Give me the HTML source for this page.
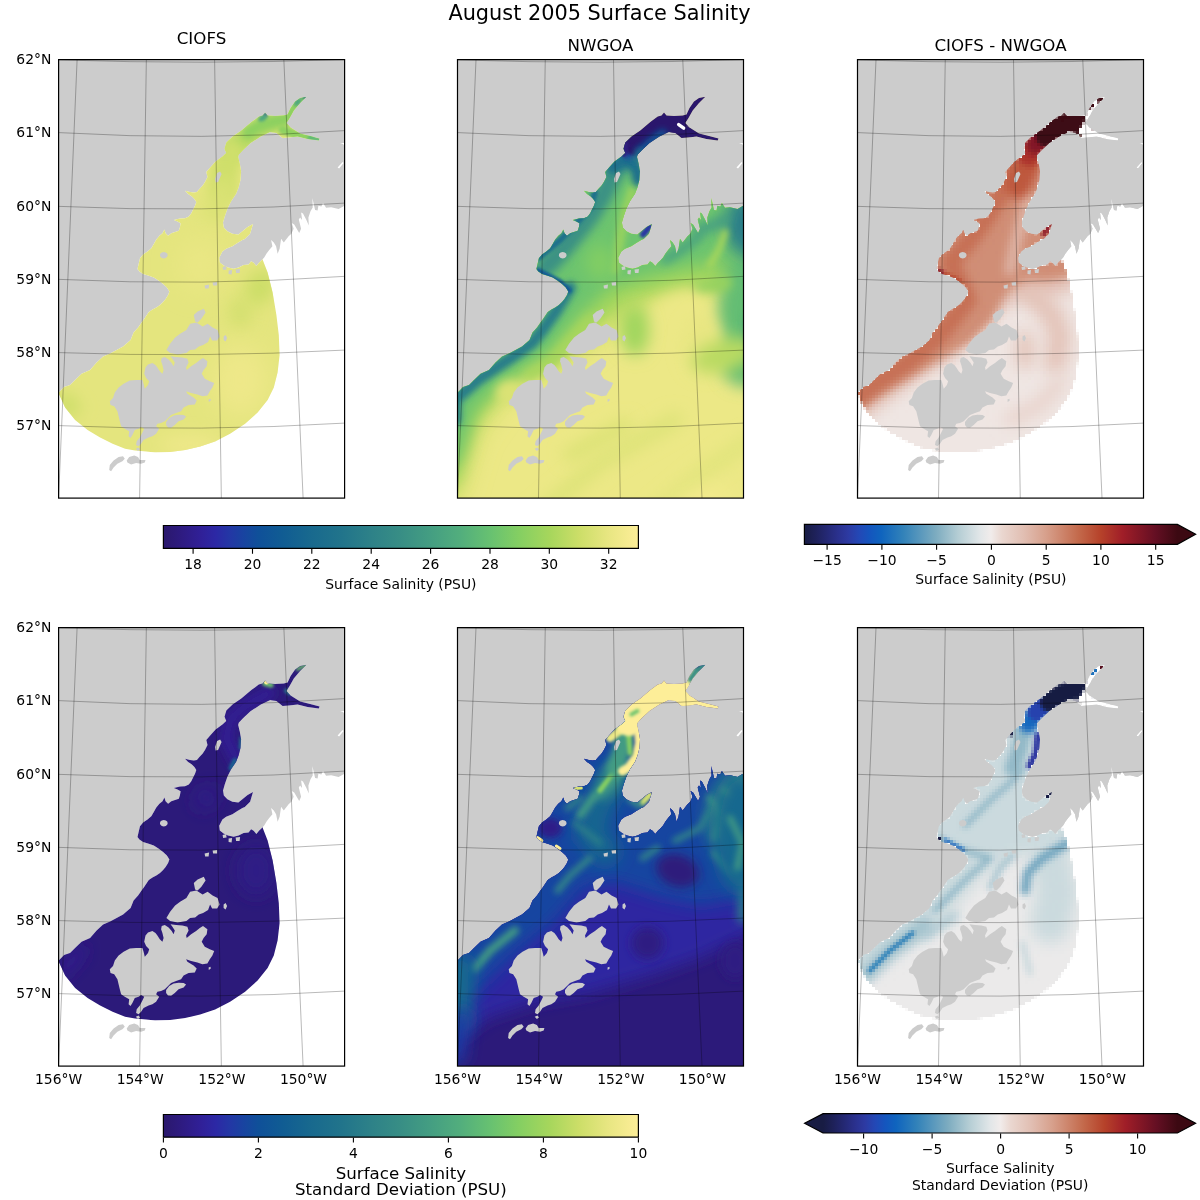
<!DOCTYPE html><html><head><meta charset="utf-8"><title>August 2005 Surface Salinity</title>
<style>html,body{margin:0;padding:0;background:#fff}svg{display:block}text{font-family:"DejaVu Sans","Liberation Sans",sans-serif;fill:#000}</style></head><body>
<svg width="1200" height="1200" viewBox="0 0 1200 1200">
<defs>
<path id="sea" d="M247.8 37.2 L241.5 38.5 L236.5 41.8 L232.0 48.5 L229.0 55.0 L225.2 56.0 L216.5 56.5 L209.0 56.0 L206.5 53.0 L204.0 56.0 L200.2 57.0 L192.8 62.5 L182.8 71.0 L174.0 76.8 L167.8 83.0 L166.0 89.2 L167.8 93.5 L164.0 96.8 L157.0 101.8 L152.0 107.5 L147.7 112.4 L148.9 117.4 L146.4 122.4 L143.9 126.2 L140.8 129.3 L138.3 132.4 L135.2 133.0 L131.4 132.4 L126.4 131.2 L129.5 134.3 L133.3 136.8 L135.8 139.3 L137.7 142.4 L136.4 146.2 L134.5 149.9 L132.7 153.7 L130.2 156.8 L126.4 158.7 L121.4 158.9 L115.2 160.5 L118.9 161.8 L122.0 163.7 L121.4 167.4 L120.2 171.2 L116.4 172.4 L112.7 173.7 L109.5 176.2 L107.0 173.7 L105.8 169.9 L103.9 173.7 L100.8 176.2 L97.7 179.9 L95.2 184.3 L92.7 188.7 L88.9 191.8 L84.5 194.9 L81.4 198.7 L80.2 203.7 L78.9 209.3 L80.8 211.8 L84.5 214.3 L90.2 216.2 L95.2 218.0 L100.2 221.2 L104.5 224.3 L108.3 228.0 L110.8 231.8 L109.5 235.5 L107.0 239.3 L104.5 242.4 L101.4 245.5 L97.7 248.0 L93.9 249.9 L90.2 252.4 L87.7 256.1 L85.2 259.9 L83.3 262.4 L79.5 268.0 L75.0 273.0 L72.0 280.5 L64.5 286.8 L58.0 290.5 L51.5 294.0 L44.5 296.8 L38.0 303.0 L31.5 310.5 L23.0 314.2 L16.5 320.5 L11.5 325.5 L5.5 327.5 L0.2 333.0 L0.0 438.5 L286.0 438.5 L287.5 145.2 L280.0 149.4 L272.5 147.7 L267.5 148.2 L264.4 143.5 L262.8 146.9 L259.8 146.2 L259.0 151.0 L256.5 150.4 L253.8 138.5 L254.1 147.9 L251.9 151.7 L249.8 157.9 L250.2 166.0 L247.8 160.4 L244.4 153.9 L242.5 152.9 L243.5 160.4 L241.5 157.9 L240.2 159.8 L242.5 169.2 L240.6 173.5 L238.1 169.2 L235.6 164.8 L233.1 163.5 L235.0 169.2 L232.8 174.2 L230.0 176.7 L227.5 179.8 L225.2 182.9 L222.5 179.2 L221.0 189.2 L219.0 194.2 L217.5 186.7 L215.2 182.9 L212.5 180.4 L213.8 186.7 L210.6 190.4 L207.8 194.2 L205.6 197.9 L202.8 201.0 L200.6 202.9 L197.8 206.4 L195.0 203.2 L192.5 201.7 L190.0 204.8 L185.0 205.4 L180.0 207.9 L175.0 209.2 L169.4 207.9 L165.0 206.0 L161.2 202.9 L160.6 198.2 L163.8 191.9 L167.5 189.2 L173.8 186.7 L178.8 183.5 L183.8 180.4 L186.2 179.4 L191.5 174.2 L194.4 164.5 L189.0 167.4 L184.4 171.2 L179.8 174.9 L173.8 174.2 L168.8 171.7 L165.2 167.9 L164.4 162.9 L166.2 156.7 L168.8 149.2 L172.5 141.7 L177.5 134.2 L180.0 127.9 L181.9 120.4 L182.5 111.7 L181.2 104.2 L179.5 97.3 L180.0 95.2 L184.5 90.5 L192.0 83.5 L202.0 77.0 L211.5 72.5 L217.8 73.5 L224.0 78.5 L230.2 78.0 L239.0 77.0 L249.0 79.5 L260.2 81.0 L261.0 79.0 L251.5 76.5 L241.5 74.0 L232.0 68.0 L227.8 63.5 L231.0 58.5 L235.2 51.0 L241.5 43.5Z"/>
<path id="pws" d="M281.5 83.5 L284.5 84.5 L285.8 86.5 L285.8 83.5Z M279.0 108.0 L284.0 102.5 L285.0 103.5 L280.5 109.0Z"/>
<path id="land" fill-rule="evenodd" d="M-2 -2H288.0V440.5H-2Z M247.8 37.2 L241.5 38.5 L236.5 41.8 L232.0 48.5 L229.0 55.0 L225.2 56.0 L216.5 56.5 L209.0 56.0 L206.5 53.0 L204.0 56.0 L200.2 57.0 L192.8 62.5 L182.8 71.0 L174.0 76.8 L167.8 83.0 L166.0 89.2 L167.8 93.5 L164.0 96.8 L157.0 101.8 L152.0 107.5 L147.7 112.4 L148.9 117.4 L146.4 122.4 L143.9 126.2 L140.8 129.3 L138.3 132.4 L135.2 133.0 L131.4 132.4 L126.4 131.2 L129.5 134.3 L133.3 136.8 L135.8 139.3 L137.7 142.4 L136.4 146.2 L134.5 149.9 L132.7 153.7 L130.2 156.8 L126.4 158.7 L121.4 158.9 L115.2 160.5 L118.9 161.8 L122.0 163.7 L121.4 167.4 L120.2 171.2 L116.4 172.4 L112.7 173.7 L109.5 176.2 L107.0 173.7 L105.8 169.9 L103.9 173.7 L100.8 176.2 L97.7 179.9 L95.2 184.3 L92.7 188.7 L88.9 191.8 L84.5 194.9 L81.4 198.7 L80.2 203.7 L78.9 209.3 L80.8 211.8 L84.5 214.3 L90.2 216.2 L95.2 218.0 L100.2 221.2 L104.5 224.3 L108.3 228.0 L110.8 231.8 L109.5 235.5 L107.0 239.3 L104.5 242.4 L101.4 245.5 L97.7 248.0 L93.9 249.9 L90.2 252.4 L87.7 256.1 L85.2 259.9 L83.3 262.4 L79.5 268.0 L75.0 273.0 L72.0 280.5 L64.5 286.8 L58.0 290.5 L51.5 294.0 L44.5 296.8 L38.0 303.0 L31.5 310.5 L23.0 314.2 L16.5 320.5 L11.5 325.5 L5.5 327.5 L0.2 333.0 L0.0 438.5 L286.0 438.5 L287.5 145.2 L280.0 149.4 L272.5 147.7 L267.5 148.2 L264.4 143.5 L262.8 146.9 L259.8 146.2 L259.0 151.0 L256.5 150.4 L253.8 138.5 L254.1 147.9 L251.9 151.7 L249.8 157.9 L250.2 166.0 L247.8 160.4 L244.4 153.9 L242.5 152.9 L243.5 160.4 L241.5 157.9 L240.2 159.8 L242.5 169.2 L240.6 173.5 L238.1 169.2 L235.6 164.8 L233.1 163.5 L235.0 169.2 L232.8 174.2 L230.0 176.7 L227.5 179.8 L225.2 182.9 L222.5 179.2 L221.0 189.2 L219.0 194.2 L217.5 186.7 L215.2 182.9 L212.5 180.4 L213.8 186.7 L210.6 190.4 L207.8 194.2 L205.6 197.9 L202.8 201.0 L200.6 202.9 L197.8 206.4 L195.0 203.2 L192.5 201.7 L190.0 204.8 L185.0 205.4 L180.0 207.9 L175.0 209.2 L169.4 207.9 L165.0 206.0 L161.2 202.9 L160.6 198.2 L163.8 191.9 L167.5 189.2 L173.8 186.7 L178.8 183.5 L183.8 180.4 L186.2 179.4 L191.5 174.2 L194.4 164.5 L189.0 167.4 L184.4 171.2 L179.8 174.9 L173.8 174.2 L168.8 171.7 L165.2 167.9 L164.4 162.9 L166.2 156.7 L168.8 149.2 L172.5 141.7 L177.5 134.2 L180.0 127.9 L181.9 120.4 L182.5 111.7 L181.2 104.2 L179.5 97.3 L180.0 95.2 L184.5 90.5 L192.0 83.5 L202.0 77.0 L211.5 72.5 L217.8 73.5 L224.0 78.5 L230.2 78.0 L239.0 77.0 L249.0 79.5 L260.2 81.0 L261.0 79.0 L251.5 76.5 L241.5 74.0 L232.0 68.0 L227.8 63.5 L231.0 58.5 L235.2 51.0 L241.5 43.5Z M281.5 83.5 L284.5 84.5 L285.8 86.5 L285.8 83.5Z M279.0 108.0 L284.0 102.5 L285.0 103.5 L280.5 109.0Z"/>
<filter id="pix" filterUnits="userSpaceOnUse" x="0" y="0" width="288" height="441" color-interpolation-filters="sRGB"><feFlood x="1" y="1" width="1" height="1"/><feComposite width="3" height="3"/><feTile result="t"/><feComposite in="SourceGraphic" in2="t" operator="in"/><feMorphology operator="dilate" radius="1"/></filter>
<path id="isl" d="M136.5 261.8 L135.2 255.5 L139.0 251.8 L145.2 249.2 L147.0 253.0 L142.8 259.2 L139.0 263.0Z M107.8 290.5 L111.5 284.2 L116.5 278.0 L121.5 274.2 L127.8 270.5 L131.5 264.2 L137.8 263.0 L144.0 266.8 L149.0 264.2 L154.0 268.0 L159.0 270.5 L161.0 276.8 L158.5 281.0 L153.5 281.0 L151.5 276.8 L149.5 282.5 L144.5 285.5 L140.2 287.0 L136.5 290.0 L131.5 290.5 L127.8 293.5 L119.0 295.0 L111.5 293.5Z M165.0 276.8 L167.0 275.5 L168.5 278.5 L167.0 282.0 L165.0 280.5Z M86.9 307.9 L89.4 304.8 L93.8 303.5 L96.9 305.4 L98.8 307.9 L101.2 311.6 L103.8 314.1 L105.0 310.4 L103.8 305.4 L102.5 301.6 L103.1 298.5 L106.2 297.3 L110.0 299.8 L113.1 303.5 L115.0 306.6 L116.2 302.9 L113.8 299.1 L111.9 296.6 L117.5 297.3 L123.8 297.9 L128.8 299.1 L130.0 302.9 L127.5 307.9 L128.1 310.4 L132.5 306.6 L137.5 303.5 L141.2 300.4 L144.4 298.5 L148.8 301.6 L148.1 306.6 L145.0 310.4 L143.1 314.1 L146.2 319.1 L151.2 321.6 L155.6 323.5 L153.8 327.9 L151.2 331.6 L148.8 336.0 L143.8 336.6 L138.8 334.8 L132.5 333.5 L127.5 331.6 L128.8 334.1 L135.0 337.9 L138.1 341.0 L136.2 344.8 L130.0 345.4 L125.0 347.9 L122.5 351.6 L117.5 353.5 L112.5 355.4 L110.0 357.9 L106.2 361.6 L102.5 363.5 L98.8 364.1 L97.5 366.6 L100.6 369.1 L97.5 374.1 L93.8 376.6 L90.0 377.9 L85.0 380.4 L82.5 384.1 L80.0 386.6 L77.5 385.4 L78.1 381.6 L81.2 377.9 L83.8 372.9 L85.6 369.1 L82.5 367.3 L80.0 369.1 L76.2 370.4 L73.8 375.4 L71.9 378.5 L70.0 376.6 L70.6 371.6 L66.2 369.1 L62.5 366.6 L61.2 361.6 L60.0 356.6 L58.8 351.6 L55.6 346.6 L51.9 345.4 L51.2 341.6 L54.4 338.5 L56.2 332.9 L60.0 327.9 L65.0 324.1 L71.2 321.0 L77.5 320.4 L83.8 320.4 L85.0 324.1 L86.2 329.1 L89.4 325.4 L90.6 321.6 L87.5 318.5 L85.6 314.1Z M150.0 339.8 L151.9 339.1 L152.2 341.0 L150.2 342.3Z M107.5 362.3 L110.6 358.5 L115.0 356.0 L120.0 355.1 L125.0 355.4 L127.5 356.9 L125.0 359.8 L120.0 361.6 L116.2 365.4 L112.5 368.1 L109.4 367.9 L107.5 365.4Z M50.6 410.4 L51.2 405.4 L55.0 401.0 L60.0 397.3 L64.4 396.6 L66.2 399.1 L63.8 401.6 L58.8 404.1 L55.0 407.9 L52.5 411.6Z M68.1 401.0 L70.6 397.3 L75.6 396.0 L79.4 397.3 L81.2 400.4 L86.9 400.4 L86.2 402.9 L82.5 404.1 L77.5 403.5 L72.5 404.8 L68.8 402.9Z M77.2 389.1 L80.0 387.9 L81.5 389.8 L79.4 391.4Z M109.1 195.6 L108.6 197.2 L107.2 198.4 L105.2 198.8 L103.2 198.4 L101.8 197.2 L101.3 195.6 L101.8 194.0 L103.2 192.8 L105.2 192.4 L107.2 192.8 L108.6 194.0Z M146.0 226.0 L150.5 225.0 L150.0 229.0 L146.5 229.0Z M154.0 223.0 L158.5 222.5 L158.5 226.0 L154.5 226.0Z M158.5 113.5 L161.5 112.0 L163.0 114.5 L159.5 122.5 L157.0 123.0 L156.5 119.5Z M164.0 207.5 L167.5 206.5 L168.0 210.0 L164.5 210.5Z M170.0 211.0 L173.5 210.5 L173.0 215.0 L170.0 214.5Z M177.0 210.0 L181.5 209.5 L181.0 213.5 L177.5 213.5Z"/>
<clipPath id="cPanel"><rect x="0" y="0" width="286.0" height="438.5"/></clipPath>
<clipPath id="cSea"><path d="M247.8 37.2 L241.5 38.5 L236.5 41.8 L232.0 48.5 L229.0 55.0 L225.2 56.0 L216.5 56.5 L209.0 56.0 L206.5 53.0 L204.0 56.0 L200.2 57.0 L192.8 62.5 L182.8 71.0 L174.0 76.8 L167.8 83.0 L166.0 89.2 L167.8 93.5 L164.0 96.8 L157.0 101.8 L152.0 107.5 L147.7 112.4 L148.9 117.4 L146.4 122.4 L143.9 126.2 L140.8 129.3 L138.3 132.4 L135.2 133.0 L131.4 132.4 L126.4 131.2 L129.5 134.3 L133.3 136.8 L135.8 139.3 L137.7 142.4 L136.4 146.2 L134.5 149.9 L132.7 153.7 L130.2 156.8 L126.4 158.7 L121.4 158.9 L115.2 160.5 L118.9 161.8 L122.0 163.7 L121.4 167.4 L120.2 171.2 L116.4 172.4 L112.7 173.7 L109.5 176.2 L107.0 173.7 L105.8 169.9 L103.9 173.7 L100.8 176.2 L97.7 179.9 L95.2 184.3 L92.7 188.7 L88.9 191.8 L84.5 194.9 L81.4 198.7 L80.2 203.7 L78.9 209.3 L80.8 211.8 L84.5 214.3 L90.2 216.2 L95.2 218.0 L100.2 221.2 L104.5 224.3 L108.3 228.0 L110.8 231.8 L109.5 235.5 L107.0 239.3 L104.5 242.4 L101.4 245.5 L97.7 248.0 L93.9 249.9 L90.2 252.4 L87.7 256.1 L85.2 259.9 L83.3 262.4 L79.5 268.0 L75.0 273.0 L72.0 280.5 L64.5 286.8 L58.0 290.5 L51.5 294.0 L44.5 296.8 L38.0 303.0 L31.5 310.5 L23.0 314.2 L16.5 320.5 L11.5 325.5 L5.5 327.5 L0.2 333.0 L0.0 438.5 L286.0 438.5 L287.5 145.2 L280.0 149.4 L272.5 147.7 L267.5 148.2 L264.4 143.5 L262.8 146.9 L259.8 146.2 L259.0 151.0 L256.5 150.4 L253.8 138.5 L254.1 147.9 L251.9 151.7 L249.8 157.9 L250.2 166.0 L247.8 160.4 L244.4 153.9 L242.5 152.9 L243.5 160.4 L241.5 157.9 L240.2 159.8 L242.5 169.2 L240.6 173.5 L238.1 169.2 L235.6 164.8 L233.1 163.5 L235.0 169.2 L232.8 174.2 L230.0 176.7 L227.5 179.8 L225.2 182.9 L222.5 179.2 L221.0 189.2 L219.0 194.2 L217.5 186.7 L215.2 182.9 L212.5 180.4 L213.8 186.7 L210.6 190.4 L207.8 194.2 L205.6 197.9 L202.8 201.0 L200.6 202.9 L197.8 206.4 L195.0 203.2 L192.5 201.7 L190.0 204.8 L185.0 205.4 L180.0 207.9 L175.0 209.2 L169.4 207.9 L165.0 206.0 L161.2 202.9 L160.6 198.2 L163.8 191.9 L167.5 189.2 L173.8 186.7 L178.8 183.5 L183.8 180.4 L186.2 179.4 L191.5 174.2 L194.4 164.5 L189.0 167.4 L184.4 171.2 L179.8 174.9 L173.8 174.2 L168.8 171.7 L165.2 167.9 L164.4 162.9 L166.2 156.7 L168.8 149.2 L172.5 141.7 L177.5 134.2 L180.0 127.9 L181.9 120.4 L182.5 111.7 L181.2 104.2 L179.5 97.3 L180.0 95.2 L184.5 90.5 L192.0 83.5 L202.0 77.0 L211.5 72.5 L217.8 73.5 L224.0 78.5 L230.2 78.0 L239.0 77.0 L249.0 79.5 L260.2 81.0 L261.0 79.0 L251.5 76.5 L241.5 74.0 L232.0 68.0 L227.8 63.5 L231.0 58.5 L235.2 51.0 L241.5 43.5Z"/></clipPath>
<clipPath id="cDom"><path d="M-5.0 -5.0 L-5.0 334.2 L0.2 334.2 L6.5 348.0 L16.5 360.5 L29.0 370.5 L41.5 378.0 L54.0 384.2 L66.5 389.2 L76.5 391.0 L87.8 392.0 L96.5 393.0 L111.5 392.5 L126.5 390.5 L141.5 386.8 L156.5 381.8 L171.5 374.2 L186.5 364.2 L199.0 353.0 L209.0 340.5 L215.2 328.0 L219.0 313.0 L221.0 295.5 L220.2 275.5 L217.8 255.5 L214.0 233.0 L209.0 213.0 L202.8 196.8 L200.0 175.0 L215.0 120.0 L272.0 100.0 L272.0 -5.0Z"/></clipPath>
<filter id="b1_5" filterUnits="userSpaceOnUse" x="-80" y="-80" width="450" height="600"><feGaussianBlur stdDeviation="1.5"/></filter>
<filter id="b3" filterUnits="userSpaceOnUse" x="-80" y="-80" width="450" height="600"><feGaussianBlur stdDeviation="3"/></filter>
<filter id="b5" filterUnits="userSpaceOnUse" x="-80" y="-80" width="450" height="600"><feGaussianBlur stdDeviation="5"/></filter>
<filter id="b8" filterUnits="userSpaceOnUse" x="-80" y="-80" width="450" height="600"><feGaussianBlur stdDeviation="8"/></filter>
<filter id="b12" filterUnits="userSpaceOnUse" x="-80" y="-80" width="450" height="600"><feGaussianBlur stdDeviation="12"/></filter>
<filter id="b18" filterUnits="userSpaceOnUse" x="-80" y="-80" width="450" height="600"><feGaussianBlur stdDeviation="18"/></filter>
<path id="grat" d="M18.50 0.00 L0.00 438.50 M87.75 0.00 L81.00 438.50 M156.00 0.00 L162.75 438.50 M225.25 0.00 L244.50 438.50 M0 0.30 Q143.00 5.05 286.00 0.00 M0 73.00 Q143.00 81.50 286.00 71.00 M0 146.75 Q143.00 153.38 286.00 143.50 M0 219.75 Q143.00 226.75 286.00 216.75 M0 293.00 Q143.00 298.25 286.00 290.50 M0 366.00 Q143.00 372.25 286.00 363.50" fill="none" stroke="#000" stroke-opacity="0.5" stroke-width="0.55"/>
</defs>
<g transform="translate(58.6 59.6)">
<g clip-path="url(#cPanel)">
<rect x="0" y="0" width="286.0" height="438.5" fill="#cccccc"/>
<use href="#sea" fill="#fff"/><use href="#pws" fill="#fff"/>
<g clip-path="url(#cDom)">
<g clip-path="url(#cSea)">
<path d="M-5.0 -5.0 L291.0 -5.0 L291.0 443.5 L-5.0 443.5Z" fill="rgb(228,229,126)"/><path d="M231.5 58.0 L209.0 65.5 L186.5 79.2 L172.8 90.5" fill="none" stroke="rgb(177,216,96)" stroke-width="20" stroke-linecap="round" stroke-linejoin="round" filter="url(#b5)"/><path d="M246.5 38.0 L235.2 49.2 L229.0 59.2 L216.5 61.8 L201.5 65.5 L189.0 73.0" fill="none" stroke="rgb(140,208,97)" stroke-width="12" stroke-linecap="round" stroke-linejoin="round" filter="url(#b3)"/><path d="M224.0 70.5 L239.0 75.5 L251.5 78.0" fill="none" stroke="rgb(143,209,96)" stroke-width="8" stroke-linecap="round" stroke-linejoin="round" filter="url(#b1_5)"/><path d="M251.5 78.0 L261.5 80.5" fill="none" stroke="rgb(92,184,119)" stroke-width="5" stroke-linecap="round" stroke-linejoin="round" filter="url(#b1_5)"/><path d="M172.8 93.0 L166.5 110.5 L164.0 130.5" fill="none" stroke="rgb(207,223,107)" stroke-width="26" stroke-linecap="round" stroke-linejoin="round" filter="url(#b5)"/><path d="M164.0 130.5 L156.5 150.5" fill="none" stroke="rgb(218,226,117)" stroke-width="24" stroke-linecap="round" stroke-linejoin="round" filter="url(#b8)"/><ellipse cx="206.5" cy="55.2" rx="2.5" ry="2.0" transform="rotate(0 206.5 55.2)" fill="rgb(19,75,156)" filter="url(#b1_5)"/><ellipse cx="204.0" cy="58.5" rx="5.0" ry="3.0" transform="rotate(-30 204.0 58.5)" fill="rgb(75,166,128)" filter="url(#b1_5)"/><ellipse cx="246.5" cy="37.5" rx="3.5" ry="1.8" transform="rotate(-20 246.5 37.5)" fill="rgb(24,105,142)" filter="url(#b1_5)"/><ellipse cx="239.0" cy="42.5" rx="5.0" ry="3.0" transform="rotate(-45 239.0 42.5)" fill="rgb(75,166,128)" filter="url(#b1_5)"/><ellipse cx="201.5" cy="228.0" rx="14.0" ry="20.0" transform="rotate(30 201.5 228.0)" fill="rgb(204,222,104)" filter="url(#b8)"/><ellipse cx="181.5" cy="253.0" rx="12.0" ry="16.0" transform="rotate(0 181.5 253.0)" fill="rgb(212,224,112)" filter="url(#b8)"/><ellipse cx="9.0" cy="345.5" rx="14.0" ry="10.0" transform="rotate(40 9.0 345.5)" fill="rgb(204,222,104)" filter="url(#b8)"/><ellipse cx="181.5" cy="320.5" rx="28.0" ry="36.0" transform="rotate(0 181.5 320.5)" fill="rgb(238,232,137)" filter="url(#b12)"/><ellipse cx="131.5" cy="385.5" rx="30.0" ry="10.0" transform="rotate(0 131.5 385.5)" fill="rgb(238,232,137)" filter="url(#b8)"/><ellipse cx="141.5" cy="205.5" rx="22.0" ry="26.0" transform="rotate(0 141.5 205.5)" fill="rgb(234,231,132)" filter="url(#b12)"/>
</g>
</g>
<use href="#isl" fill="#cccccc"/>
<use href="#grat"/>
</g>
<rect x="0" y="0" width="286.0" height="438.5" fill="none" stroke="#000" stroke-width="1.2"/>
</g>
<g transform="translate(457.5 59.6)">
<g clip-path="url(#cPanel)">
<rect x="0" y="0" width="286.0" height="438.5" fill="#cccccc"/>
<use href="#sea" fill="#fff"/><use href="#pws" fill="#fff"/>
<g clip-path="url(#cSea)">
<path d="M-5.0 -5.0 L291.0 -5.0 L291.0 443.5 L-5.0 443.5Z" fill="rgb(236,232,134)"/><path d="M55.0 478.0 L142.5 403.0 L217.5 360.5" fill="none" stroke="rgb(221,227,120)" stroke-width="16" stroke-linecap="round" stroke-linejoin="round" filter="url(#b8)"/><path d="M167.5 478.0 L242.5 415.5 L292.5 380.5" fill="none" stroke="rgb(224,228,122)" stroke-width="14" stroke-linecap="round" stroke-linejoin="round" filter="url(#b8)"/><path d="M112.5 395.5 L167.5 365.5" fill="none" stroke="rgb(218,226,117)" stroke-width="14" stroke-linecap="round" stroke-linejoin="round" filter="url(#b8)"/><ellipse cx="242.5" cy="453.0" rx="30.0" ry="20.0" transform="rotate(-30 242.5 453.0)" fill="rgb(245,235,143)" filter="url(#b12)"/><path d="M167.5 65.5 L55.0 190.5 L-20.0 315.5 L-20.0 453.0 L1.2 440.5 L20.0 375.5 L45.0 340.5 L72.5 323.0 L105.0 308.0 L142.5 278.0 L182.5 255.5 L217.5 238.0 L255.0 230.5 L317.5 253.0 L317.5 103.0 L192.5 140.5Z" fill="rgb(204,222,104)" filter="url(#b12)"/><path d="M167.5 65.5 L55.0 190.5 L-20.0 315.5 L-20.0 440.5 L1.2 423.0 L17.5 363.0 L42.5 331.8 L67.5 315.5 L97.5 300.5 L132.5 268.0 L172.5 240.5 L217.5 228.0 L255.0 223.0 L317.5 235.5 L317.5 103.0 L192.5 140.5Z" fill="rgb(159,213,93)" filter="url(#b8)"/><path d="M167.5 65.5 L55.0 190.5 L-20.0 315.5 L-20.0 420.5 L1.2 400.5 L17.5 350.5 L42.5 324.2 L67.5 308.0 L92.5 294.2 L122.5 255.5 L152.5 228.0 L205.0 213.0 L242.5 205.5 L317.5 200.5 L317.5 103.0 L192.5 140.5Z" fill="rgb(109,196,110)" filter="url(#b8)"/><path d="M290.0 215.5 L283.8 253.0 L287.5 303.0" fill="none" stroke="rgb(99,189,115)" stroke-width="48" stroke-linecap="round" stroke-linejoin="round" filter="url(#b8)"/><path d="M296.2 260.5 L293.8 290.5" fill="none" stroke="rgb(62,150,132)" stroke-width="14" stroke-linecap="round" stroke-linejoin="round" filter="url(#b5)"/><path d="M242.5 228.0 L267.5 223.0" fill="none" stroke="rgb(150,210,95)" stroke-width="14" stroke-linecap="round" stroke-linejoin="round" filter="url(#b5)"/><ellipse cx="217.5" cy="255.5" rx="34.0" ry="20.0" transform="rotate(-25 217.5 255.5)" fill="rgb(236,232,134)" filter="url(#b8)"/><ellipse cx="245.0" cy="285.5" rx="20.0" ry="30.0" transform="rotate(0 245.0 285.5)" fill="rgb(232,230,130)" filter="url(#b8)"/><ellipse cx="177.5" cy="270.5" rx="14.0" ry="26.0" transform="rotate(0 177.5 270.5)" fill="rgb(159,213,93)" filter="url(#b8)"/><ellipse cx="267.5" cy="295.5" rx="34.0" ry="16.0" transform="rotate(-15 267.5 295.5)" fill="rgb(185,218,98)" filter="url(#b8)"/><ellipse cx="302.5" cy="165.5" rx="36.0" ry="34.0" transform="rotate(0 302.5 165.5)" fill="rgb(43,127,137)" filter="url(#b8)"/><path d="M242.5 170.5 L267.5 160.5" fill="none" stroke="rgb(68,158,130)" stroke-width="10" stroke-linecap="round" stroke-linejoin="round" filter="url(#b5)"/><path d="M267.5 173.0 L261.2 190.5 L252.5 205.5" fill="none" stroke="rgb(166,214,92)" stroke-width="7" stroke-linecap="round" stroke-linejoin="round" filter="url(#b3)"/><path d="M207.5 200.5 L227.5 188.0 L242.5 175.5" fill="none" stroke="rgb(68,158,130)" stroke-width="8" stroke-linecap="round" stroke-linejoin="round" filter="url(#b5)"/><path d="M167.5 98.0 L155.0 115.5 L145.0 135.5 L132.5 155.5 L115.0 178.0 L97.5 198.0 L87.5 208.0" fill="none" stroke="rgb(58,145,132)" stroke-width="20" stroke-linecap="round" stroke-linejoin="round" filter="url(#b5)"/><path d="M175.0 130.5 L167.5 153.0 L162.5 180.5 L157.5 210.5" fill="none" stroke="rgb(153,211,94)" stroke-width="9" stroke-linecap="round" stroke-linejoin="round" filter="url(#b3)"/><path d="M112.5 228.0 L97.5 253.0 L85.0 270.5 L75.0 283.0 L50.0 300.5 L20.0 320.5 L-2.5 340.5 L-2.5 360.5" fill="none" stroke="rgb(39,123,138)" stroke-width="12" stroke-linecap="round" stroke-linejoin="round" filter="url(#b3)"/><path d="M80.0 210.5 L102.5 221.8 L112.0 231.0" fill="none" stroke="rgb(15,84,151)" stroke-width="4.5" stroke-linecap="round" stroke-linejoin="round" filter="url(#b1_5)"/><ellipse cx="142.5" cy="203.0" rx="14.0" ry="18.0" transform="rotate(0 142.5 203.0)" fill="rgb(130,206,100)" filter="url(#b8)"/><path d="M81.5 198.0 L102.5 180.5 L117.5 165.5 L132.5 148.0 L137.5 133.0" fill="none" stroke="rgb(29,111,140)" stroke-width="6" stroke-linecap="round" stroke-linejoin="round" filter="url(#b1_5)"/><path d="M155.0 108.0 L168.8 99.2 L178.8 108.0 L181.2 120.5" fill="none" stroke="rgb(29,111,140)" stroke-width="13" stroke-linecap="round" stroke-linejoin="round" filter="url(#b3)"/><path d="M172.0 91.8 L187.5 81.8" fill="none" stroke="rgb(29,62,162)" stroke-width="15" stroke-linecap="round" stroke-linejoin="round" filter="url(#b3)"/><path d="M248.8 37.2 L233.0 53.0 L217.5 60.0 L205.0 65.5 L190.0 75.5 L178.8 83.5" fill="none" stroke="rgb(42,24,108)" stroke-width="26" stroke-linecap="round" stroke-linejoin="round" filter="url(#b1_5)"/><path d="M225.0 70.5 L242.5 75.5 L262.0 80.0" fill="none" stroke="rgb(42,24,108)" stroke-width="9" stroke-linecap="round" stroke-linejoin="round"/><path d="M217.5 71.8 L230.0 76.8" fill="none" stroke="rgb(42,24,108)" stroke-width="12" stroke-linecap="round" stroke-linejoin="round"/><path d="M205.0 74.2 L192.5 83.5 L183.8 91.8" fill="none" stroke="rgb(15,84,151)" stroke-width="9" stroke-linecap="round" stroke-linejoin="round" filter="url(#b3)"/><path d="M182.5 93.0 L178.8 100.5" fill="none" stroke="rgb(29,111,140)" stroke-width="9" stroke-linecap="round" stroke-linejoin="round" filter="url(#b3)"/><path d="M167.5 85.5 L166.2 93.5" fill="none" stroke="rgb(45,26,125)" stroke-width="7" stroke-linecap="round" stroke-linejoin="round" filter="url(#b1_5)"/><path d="M221.2 65.0 L226.2 68.5" fill="none" stroke="rgb(255,255,255)" stroke-width="3.5" stroke-linecap="round" stroke-linejoin="round"/><path d="M192.5 166.8 L185.5 175.0" fill="none" stroke="rgb(40,48,165)" stroke-width="6" stroke-linecap="round" stroke-linejoin="round" filter="url(#b1_5)"/><path d="M132.5 260.5 L112.5 280.5 L92.5 303.0 L72.5 315.5" fill="none" stroke="rgb(166,214,92)" stroke-width="10" stroke-linecap="round" stroke-linejoin="round" filter="url(#b5)"/><ellipse cx="52.5" cy="333.0" rx="14.0" ry="12.0" transform="rotate(0 52.5 333.0)" fill="rgb(218,226,117)" filter="url(#b5)"/>
</g>
<use href="#isl" fill="#cccccc"/>
<use href="#grat"/>
</g>
<rect x="0" y="0" width="286.0" height="438.5" fill="none" stroke="#000" stroke-width="1.2"/>
</g>
<g transform="translate(857.5 59.6)">
<g clip-path="url(#cPanel)">
<rect x="0" y="0" width="286.0" height="438.5" fill="#cccccc"/>
<use href="#sea" fill="#fff"/><use href="#pws" fill="#fff"/>
<g transform="translate(-0.5 -0.6)"><g filter="url(#pix)"><g transform="translate(0.5 0.6)">
<g clip-path="url(#cDom)">
<g clip-path="url(#cSea)">
<path d="M-5.0 -5.0 L291.0 -5.0 L291.0 443.5 L-5.0 443.5Z" fill="rgb(239,230,227)"/><path d="M167.5 65.5 L55.0 190.5 L-20.0 315.5 L-20.0 380.5 L17.5 350.5 L55.0 323.0 L97.5 295.5 L132.5 260.5 L157.5 240.5 L187.5 238.0 L217.5 230.5 L217.5 190.5 L192.5 140.5Z" fill="rgb(225,190,178)" filter="url(#b8)"/><path d="M167.5 65.5 L55.0 190.5 L-20.0 315.5 L-20.0 365.5 L17.5 339.2 L55.0 316.8 L92.5 294.2 L112.5 283.0 L135.0 260.5 L145.0 240.5 L155.0 228.0 L182.5 223.0 L217.5 215.5 L217.5 190.5 L192.5 140.5Z" fill="rgb(208,142,118)" filter="url(#b5)"/><path d="M172.5 233.0 L195.0 255.5 L202.5 278.0 L197.5 303.0" fill="none" stroke="rgb(227,195,184)" stroke-width="22" stroke-linecap="round" stroke-linejoin="round" filter="url(#b8)"/><ellipse cx="167.5" cy="290.5" rx="10.0" ry="20.0" transform="rotate(0 167.5 290.5)" fill="rgb(228,198,187)" filter="url(#b8)"/><path d="M152.5 360.5 L182.5 345.5 L202.5 323.0" fill="none" stroke="rgb(231,207,199)" stroke-width="12" stroke-linecap="round" stroke-linejoin="round" filter="url(#b8)"/><path d="M155.0 108.0 L142.5 135.5 L127.5 160.5 L110.0 183.0 L92.5 203.0 L102.5 223.0 L110.0 240.5 L92.5 263.0 L77.5 280.5 L50.0 303.0 L20.0 323.0 L-2.5 340.5" fill="none" stroke="rgb(198,112,84)" stroke-width="18" stroke-linecap="round" stroke-linejoin="round" filter="url(#b5)"/><path d="M172.5 138.0 L165.0 160.5 L157.5 185.5 L152.5 210.5" fill="none" stroke="rgb(222,181,167)" stroke-width="11" stroke-linecap="round" stroke-linejoin="round" filter="url(#b5)"/><path d="M160.0 125.5 L167.5 110.5 L172.5 100.5" fill="none" stroke="rgb(190,89,62)" stroke-width="26" stroke-linecap="round" stroke-linejoin="round" filter="url(#b5)"/><path d="M171.2 95.5 L182.5 83.0" fill="none" stroke="rgb(171,48,41)" stroke-width="22" stroke-linecap="round" stroke-linejoin="round" filter="url(#b3)"/><path d="M178.8 84.2 L192.5 74.2" fill="none" stroke="rgb(130,22,38)" stroke-width="22" stroke-linecap="round" stroke-linejoin="round" filter="url(#b3)"/><path d="M190.0 75.5 L205.0 65.5 L217.5 61.8 L227.5 65.5" fill="none" stroke="rgb(60,9,18)" stroke-width="24" stroke-linecap="round" stroke-linejoin="round" filter="url(#b1_5)"/><path d="M205.0 58.0 L210.0 56.0" fill="none" stroke="rgb(60,9,18)" stroke-width="6" stroke-linecap="round" stroke-linejoin="round"/><path d="M80.0 210.5 L85.5 213.5" fill="none" stroke="rgb(140,25,38)" stroke-width="4" stroke-linecap="round" stroke-linejoin="round" filter="url(#b1_5)"/><path d="M87.5 214.2 L102.5 221.0" fill="none" stroke="rgb(185,76,50)" stroke-width="4" stroke-linecap="round" stroke-linejoin="round" filter="url(#b1_5)"/><path d="M192.5 166.8 L186.2 174.2" fill="none" stroke="rgb(140,25,38)" stroke-width="5" stroke-linecap="round" stroke-linejoin="round" filter="url(#b1_5)"/><path d="M226.2 71.0 L242.5 76.0 L262.0 80.0" fill="none" stroke="rgb(255,255,255)" stroke-width="10" stroke-linecap="round" stroke-linejoin="round"/><path d="M248.8 37.2 L238.8 43.0 L232.0 53.0 L229.5 63.0 L227.5 73.0" fill="none" stroke="rgb(255,255,255)" stroke-width="7" stroke-linecap="round" stroke-linejoin="round"/><path d="M233.0 48.5 L236.2 44.2" fill="none" stroke="rgb(60,9,18)" stroke-width="3" stroke-linecap="round" stroke-linejoin="round"/><path d="M240.0 41.8 L244.5 38.8" fill="none" stroke="rgb(60,9,18)" stroke-width="3" stroke-linecap="round" stroke-linejoin="round"/>
</g>
</g>
</g></g></g>
<use href="#land" fill="#cccccc"/>
<use href="#isl" fill="#cccccc"/>
<use href="#grat"/>
</g>
<rect x="0" y="0" width="286.0" height="438.5" fill="none" stroke="#000" stroke-width="1.2"/>
</g>
<g transform="translate(58.6 627.6)">
<g clip-path="url(#cPanel)">
<rect x="0" y="0" width="286.0" height="438.5" fill="#cccccc"/>
<use href="#sea" fill="#fff"/><use href="#pws" fill="#fff"/>
<g clip-path="url(#cDom)">
<g clip-path="url(#cSea)">
<path d="M-5.0 -5.0 L291.0 -5.0 L291.0 443.5 L-5.0 443.5Z" fill="rgb(44,26,122)"/><path d="M210.0 65.5 L187.5 78.0 L172.5 90.5 L167.5 110.5 L177.5 130.5" fill="none" stroke="rgb(48,31,146)" stroke-width="14" stroke-linecap="round" stroke-linejoin="round" filter="url(#b5)"/><path d="M206.2 56.0 L212.5 57.5" fill="none" stroke="rgb(109,196,110)" stroke-width="5" stroke-linecap="round" stroke-linejoin="round" filter="url(#b1_5)"/><ellipse cx="208.0" cy="55.0" rx="2.5" ry="2.0" transform="rotate(0 208.0 55.0)" fill="rgb(253,238,152)"/><path d="M238.8 41.8 L247.5 37.5" fill="none" stroke="rgb(109,196,110)" stroke-width="3" stroke-linecap="round" stroke-linejoin="round" filter="url(#b1_5)"/><path d="M182.5 110.5 L181.8 120.5" fill="none" stroke="rgb(30,112,140)" stroke-width="3" stroke-linecap="round" stroke-linejoin="round" filter="url(#b1_5)"/><path d="M176.2 133.0 L172.5 140.5" fill="none" stroke="rgb(20,98,144)" stroke-width="5" stroke-linecap="round" stroke-linejoin="round" filter="url(#b1_5)"/><path d="M227.5 63.0 L231.2 65.5" fill="none" stroke="rgb(38,121,138)" stroke-width="4" stroke-linecap="round" stroke-linejoin="round" filter="url(#b1_5)"/><ellipse cx="197.5" cy="243.0" rx="20.0" ry="26.0" transform="rotate(0 197.5 243.0)" fill="rgb(46,28,133)" filter="url(#b8)"/><ellipse cx="147.5" cy="170.5" rx="14.0" ry="10.0" transform="rotate(-40 147.5 170.5)" fill="rgb(46,28,133)" filter="url(#b8)"/><path d="M2.5 345.5 L22.5 323.0" fill="none" stroke="rgb(48,31,146)" stroke-width="10" stroke-linecap="round" stroke-linejoin="round" filter="url(#b8)"/>
</g>
</g>
<use href="#isl" fill="#cccccc"/>
<use href="#grat"/>
</g>
<rect x="0" y="0" width="286.0" height="438.5" fill="none" stroke="#000" stroke-width="1.2"/>
</g>
<g transform="translate(457.5 627.6)">
<g clip-path="url(#cPanel)">
<rect x="0" y="0" width="286.0" height="438.5" fill="#cccccc"/>
<use href="#sea" fill="#fff"/><use href="#pws" fill="#fff"/>
<g clip-path="url(#cSea)">
<path d="M-5.0 -5.0 L291.0 -5.0 L291.0 443.5 L-5.0 443.5Z" fill="rgb(44,26,122)"/><path d="M167.5 65.5 L55.0 190.5 L-20.0 315.5 L-20.0 430.5 L30.0 390.5 L75.0 375.5 L132.5 365.5 L192.5 348.0 L242.5 330.5 L317.5 295.5 L317.5 103.0 L192.5 140.5Z" fill="rgb(45,37,161)" filter="url(#b8)"/><path d="M167.5 65.5 L55.0 190.5 L-20.0 315.5 L-20.0 395.5 L22.5 360.5 L57.5 328.0 L97.5 295.5 L127.5 260.5 L157.5 255.5 L205.0 270.5 L242.5 278.0 L317.5 265.5 L317.5 103.0 L192.5 140.5Z" fill="rgb(24,68,160)" filter="url(#b8)"/><path d="M157.5 150.5 L142.5 175.5 L132.5 205.5 L147.5 223.0" fill="none" stroke="rgb(21,101,144)" stroke-width="30" stroke-linecap="round" stroke-linejoin="round" filter="url(#b8)"/><ellipse cx="152.5" cy="153.0" rx="12.0" ry="22.0" transform="rotate(30 152.5 153.0)" fill="rgb(46,130,136)" filter="url(#b5)"/><path d="M110.0 180.5 L122.5 170.5" fill="none" stroke="rgb(48,132,136)" stroke-width="6" stroke-linecap="round" stroke-linejoin="round" filter="url(#b3)"/><ellipse cx="220.0" cy="243.0" rx="22.0" ry="16.0" transform="rotate(20 220.0 243.0)" fill="rgb(45,26,124)" filter="url(#b5)"/><ellipse cx="190.0" cy="315.5" rx="16.0" ry="16.0" transform="rotate(0 190.0 315.5)" fill="rgb(46,27,130)" filter="url(#b5)"/><ellipse cx="277.5" cy="333.0" rx="14.0" ry="18.0" transform="rotate(0 277.5 333.0)" fill="rgb(46,27,130)" filter="url(#b5)"/><ellipse cx="92.5" cy="200.5" rx="12.0" ry="10.0" transform="rotate(0 92.5 200.5)" fill="rgb(46,28,136)" filter="url(#b3)"/><ellipse cx="275.0" cy="180.5" rx="24.0" ry="40.0" transform="rotate(20 275.0 180.5)" fill="rgb(49,134,135)" filter="url(#b8)"/><path d="M252.5 170.5 L265.0 190.5 L257.5 210.5" fill="none" stroke="rgb(66,155,131)" stroke-width="6" stroke-linecap="round" stroke-linejoin="round" filter="url(#b3)"/><path d="M280.0 150.5 L290.0 165.5" fill="none" stroke="rgb(66,155,131)" stroke-width="6" stroke-linecap="round" stroke-linejoin="round" filter="url(#b3)"/><path d="M267.5 163.0 L287.5 175.5" fill="none" stroke="rgb(109,196,110)" stroke-width="5" stroke-linecap="round" stroke-linejoin="round" filter="url(#b3)"/><path d="M255.0 180.5 L242.5 200.5 L217.5 213.0" fill="none" stroke="rgb(48,132,136)" stroke-width="6" stroke-linecap="round" stroke-linejoin="round" filter="url(#b3)"/><path d="M257.5 225.5 L270.0 240.5 L286.8 250.5" fill="none" stroke="rgb(56,142,133)" stroke-width="8" stroke-linecap="round" stroke-linejoin="round" filter="url(#b3)"/><path d="M287.5 253.0 L285.0 290.5" fill="none" stroke="rgb(44,128,136)" stroke-width="10" stroke-linecap="round" stroke-linejoin="round" filter="url(#b5)"/><path d="M185.0 230.5 L200.0 220.5" fill="none" stroke="rgb(48,132,136)" stroke-width="6" stroke-linecap="round" stroke-linejoin="round" filter="url(#b3)"/><path d="M165.0 140.5 L152.5 155.5 L135.0 170.5 L122.5 188.0" fill="none" stroke="rgb(66,155,131)" stroke-width="8" stroke-linecap="round" stroke-linejoin="round" filter="url(#b3)"/><path d="M157.5 143.0 L142.5 163.0" fill="none" stroke="rgb(133,207,98)" stroke-width="5" stroke-linecap="round" stroke-linejoin="round" filter="url(#b1_5)"/><path d="M132.5 230.5 L112.5 248.0 L100.0 263.0" fill="none" stroke="rgb(53,138,134)" stroke-width="6" stroke-linecap="round" stroke-linejoin="round" filter="url(#b3)"/><path d="M117.5 195.5 L142.5 215.5" fill="none" stroke="rgb(42,126,137)" stroke-width="6" stroke-linecap="round" stroke-linejoin="round" filter="url(#b3)"/><path d="M167.5 98.0 L165.0 120.5 L157.5 140.5" fill="none" stroke="rgb(66,155,131)" stroke-width="18" stroke-linecap="round" stroke-linejoin="round" filter="url(#b3)"/><path d="M180.5 98.0 L182.0 115.5 L178.8 129.2 L171.2 140.0 L165.0 143.5" fill="none" stroke="rgb(253,238,152)" stroke-width="9" stroke-linecap="round" stroke-linejoin="round" filter="url(#b1_5)"/><path d="M171.2 108.0 L172.5 125.5" fill="none" stroke="rgb(133,207,98)" stroke-width="5" stroke-linecap="round" stroke-linejoin="round" filter="url(#b1_5)"/><path d="M152.5 110.5 L162.5 103.0" fill="none" stroke="rgb(236,232,134)" stroke-width="8" stroke-linecap="round" stroke-linejoin="round" filter="url(#b1_5)"/><path d="M233.0 53.0 L217.5 60.0 L205.0 65.5 L190.0 75.5 L177.5 85.5 L171.2 95.5" fill="none" stroke="rgb(253,238,152)" stroke-width="26" stroke-linecap="round" stroke-linejoin="round" filter="url(#b1_5)"/><path d="M227.5 63.0 L230.0 73.0" fill="none" stroke="rgb(253,238,152)" stroke-width="14" stroke-linecap="round" stroke-linejoin="round"/><path d="M173.8 86.8 L180.0 83.5" fill="none" stroke="rgb(109,196,110)" stroke-width="4" stroke-linecap="round" stroke-linejoin="round" filter="url(#b1_5)"/><path d="M217.5 71.8 L230.0 76.8" fill="none" stroke="rgb(253,238,152)" stroke-width="12" stroke-linecap="round" stroke-linejoin="round"/><path d="M225.0 71.0 L242.5 76.0 L262.0 80.0" fill="none" stroke="rgb(253,238,152)" stroke-width="8" stroke-linecap="round" stroke-linejoin="round"/><path d="M248.8 37.2 L238.8 43.0 L233.0 51.8" fill="none" stroke="rgb(56,142,133)" stroke-width="6" stroke-linecap="round" stroke-linejoin="round" filter="url(#b1_5)"/><path d="M192.5 166.8 L185.0 175.0" fill="none" stroke="rgb(215,225,114)" stroke-width="6" stroke-linecap="round" stroke-linejoin="round" filter="url(#b1_5)"/><path d="M172.5 170.5 L182.5 178.0" fill="none" stroke="rgb(66,155,131)" stroke-width="6" stroke-linecap="round" stroke-linejoin="round" filter="url(#b3)"/><path d="M80.0 210.5 L83.8 213.0" fill="none" stroke="rgb(253,238,152)" stroke-width="4" stroke-linecap="round" stroke-linejoin="round"/><path d="M98.8 218.5 L102.5 221.0" fill="none" stroke="rgb(253,238,152)" stroke-width="3" stroke-linecap="round" stroke-linejoin="round"/><path d="M117.5 161.0 L123.8 160.5" fill="none" stroke="rgb(215,225,114)" stroke-width="3" stroke-linecap="round" stroke-linejoin="round"/><path d="M57.5 303.0 L32.5 323.0 L17.5 340.5" fill="none" stroke="rgb(66,155,131)" stroke-width="8" stroke-linecap="round" stroke-linejoin="round" filter="url(#b3)"/><path d="M2.5 340.5 L0.0 390.5" fill="none" stroke="rgb(25,107,142)" stroke-width="28" stroke-linecap="round" stroke-linejoin="round" filter="url(#b8)"/><path d="M2.5 390.5 L-2.5 428.0" fill="none" stroke="rgb(31,59,163)" stroke-width="20" stroke-linecap="round" stroke-linejoin="round" filter="url(#b8)"/><ellipse cx="282.5" cy="205.5" rx="26.0" ry="60.0" transform="rotate(0 282.5 205.5)" fill="rgb(23,103,143)" filter="url(#b8)"/><path d="M272.5 190.5 L285.0 215.5 L280.0 240.5" fill="none" stroke="rgb(66,155,131)" stroke-width="6" stroke-linecap="round" stroke-linejoin="round" filter="url(#b3)"/>
</g>
<use href="#isl" fill="#cccccc"/>
<use href="#grat"/>
</g>
<rect x="0" y="0" width="286.0" height="438.5" fill="none" stroke="#000" stroke-width="1.2"/>
</g>
<g transform="translate(857.5 627.6)">
<g clip-path="url(#cPanel)">
<rect x="0" y="0" width="286.0" height="438.5" fill="#cccccc"/>
<use href="#sea" fill="#fff"/><use href="#pws" fill="#fff"/>
<g transform="translate(-0.5 -0.6)"><g filter="url(#pix)"><g transform="translate(0.5 0.6)">
<g clip-path="url(#cDom)">
<g clip-path="url(#cSea)">
<path d="M-5.0 -5.0 L291.0 -5.0 L291.0 443.5 L-5.0 443.5Z" fill="rgb(235,234,234)"/><path d="M167.5 65.5 L55.0 190.5 L-20.0 315.5 L-20.0 370.5 L17.5 340.5 L55.0 315.5 L92.5 285.5 L122.5 250.5 L152.5 230.5 L182.5 225.5 L217.5 215.5 L217.5 190.5 L192.5 140.5Z" fill="rgb(203,218,222)" filter="url(#b8)"/><path d="M192.5 230.5 L200.0 265.5 L192.5 295.5" fill="none" stroke="rgb(203,218,222)" stroke-width="40" stroke-linecap="round" stroke-linejoin="round" filter="url(#b8)"/><path d="M165.0 140.5 L152.5 155.5 L135.0 170.5 L117.5 188.0 L107.5 198.0" fill="none" stroke="rgb(133,177,195)" stroke-width="5" stroke-linecap="round" stroke-linejoin="round" filter="url(#b3)"/><path d="M80.0 210.5 L102.5 221.8 L132.5 230.5 L112.5 248.0 L92.5 268.0 L77.5 283.0" fill="none" stroke="rgb(133,177,195)" stroke-width="5" stroke-linecap="round" stroke-linejoin="round" filter="url(#b3)"/><path d="M155.0 228.0 L142.5 240.5 L132.5 260.5" fill="none" stroke="rgb(155,190,203)" stroke-width="5" stroke-linecap="round" stroke-linejoin="round" filter="url(#b3)"/><path d="M210.0 215.5 L185.0 230.5 L170.0 245.5 L167.5 263.0" fill="none" stroke="rgb(113,165,191)" stroke-width="9" stroke-linecap="round" stroke-linejoin="round" filter="url(#b3)"/><path d="M67.5 298.0 L32.5 323.0 L7.5 348.0" fill="none" stroke="rgb(162,194,205)" stroke-width="16" stroke-linecap="round" stroke-linejoin="round" filter="url(#b5)"/><path d="M55.0 305.5 L32.5 323.0 L12.5 343.0" fill="none" stroke="rgb(54,132,185)" stroke-width="5" stroke-linecap="round" stroke-linejoin="round" filter="url(#b1_5)"/><path d="M87.5 212.5 L106.2 222.5" fill="none" stroke="rgb(17,94,190)" stroke-width="3" stroke-linecap="round" stroke-linejoin="round" filter="url(#b1_5)"/><path d="M165.0 315.5 L172.5 345.5" fill="none" stroke="rgb(195,213,218)" stroke-width="5" stroke-linecap="round" stroke-linejoin="round" filter="url(#b3)"/><path d="M97.5 288.0 L67.5 308.0" fill="none" stroke="rgb(169,198,208)" stroke-width="8" stroke-linecap="round" stroke-linejoin="round" filter="url(#b5)"/><path d="M167.5 98.0 L162.5 120.5 L155.0 140.5" fill="none" stroke="rgb(147,185,200)" stroke-width="16" stroke-linecap="round" stroke-linejoin="round" filter="url(#b3)"/><path d="M180.5 108.0 L178.8 125.5 L172.5 138.0" fill="none" stroke="rgb(45,57,160)" stroke-width="7" stroke-linecap="round" stroke-linejoin="round" filter="url(#b1_5)"/><path d="M171.2 95.5 L182.5 83.0" fill="none" stroke="rgb(18,103,190)" stroke-width="20" stroke-linecap="round" stroke-linejoin="round" filter="url(#b3)"/><path d="M178.8 84.2 L192.5 74.2" fill="none" stroke="rgb(39,66,174)" stroke-width="18" stroke-linecap="round" stroke-linejoin="round" filter="url(#b1_5)"/><path d="M192.5 74.2 L205.0 65.5 L217.5 61.8 L226.2 63.0" fill="none" stroke="rgb(24,28,67)" stroke-width="20" stroke-linecap="round" stroke-linejoin="round" filter="url(#b1_5)"/><path d="M80.0 210.5 L82.5 211.8" fill="none" stroke="rgb(24,28,67)" stroke-width="3.5" stroke-linecap="round" stroke-linejoin="round"/><path d="M192.5 166.8 L190.0 169.5" fill="none" stroke="rgb(24,28,67)" stroke-width="3" stroke-linecap="round" stroke-linejoin="round"/><path d="M152.5 108.0 L155.0 106.2" fill="none" stroke="rgb(24,28,67)" stroke-width="3" stroke-linecap="round" stroke-linejoin="round"/><path d="M226.2 71.0 L242.5 76.0 L262.0 80.0" fill="none" stroke="rgb(255,255,255)" stroke-width="10" stroke-linecap="round" stroke-linejoin="round"/><path d="M248.8 37.2 L238.8 43.0 L232.0 53.0 L229.5 63.0 L227.5 73.0" fill="none" stroke="rgb(255,255,255)" stroke-width="7" stroke-linecap="round" stroke-linejoin="round"/><path d="M234.5 46.8 L238.8 42.5" fill="none" stroke="rgb(30,113,188)" stroke-width="3" stroke-linecap="round" stroke-linejoin="round"/><path d="M243.8 39.2 L246.2 38.0" fill="none" stroke="rgb(86,13,29)" stroke-width="2.5" stroke-linecap="round" stroke-linejoin="round"/>
</g>
</g>
</g></g></g>
<use href="#land" fill="#cccccc"/>
<use href="#isl" fill="#cccccc"/>
<use href="#grat"/>
</g>
<rect x="0" y="0" width="286.0" height="438.5" fill="none" stroke="#000" stroke-width="1.2"/>
</g>
<text x="599.5" y="19.8" font-size="20.83" text-anchor="middle">August 2005 Surface Salinity</text>
<text x="201.5" y="44.0" font-size="16.67" text-anchor="middle">CIOFS</text>
<text x="600.5" y="51.0" font-size="16.67" text-anchor="middle">NWGOA</text>
<text x="1000.5" y="51.0" font-size="16.67" text-anchor="middle">CIOFS - NWGOA</text>
<text x="51.3" y="64.3" font-size="13.89" text-anchor="end">62°N</text>
<text x="51.3" y="137.0" font-size="13.89" text-anchor="end">61°N</text>
<text x="51.3" y="210.8" font-size="13.89" text-anchor="end">60°N</text>
<text x="51.3" y="283.8" font-size="13.89" text-anchor="end">59°N</text>
<text x="51.3" y="357.0" font-size="13.89" text-anchor="end">58°N</text>
<text x="51.3" y="430.0" font-size="13.89" text-anchor="end">57°N</text>
<text x="51.3" y="632.3" font-size="13.89" text-anchor="end">62°N</text>
<text x="51.3" y="705.0" font-size="13.89" text-anchor="end">61°N</text>
<text x="51.3" y="778.8" font-size="13.89" text-anchor="end">60°N</text>
<text x="51.3" y="851.8" font-size="13.89" text-anchor="end">59°N</text>
<text x="51.3" y="925.0" font-size="13.89" text-anchor="end">58°N</text>
<text x="51.3" y="998.0" font-size="13.89" text-anchor="end">57°N</text>
<text x="58.6" y="1084.3" font-size="13.89" text-anchor="middle">156°W</text>
<text x="140.2" y="1084.3" font-size="13.89" text-anchor="middle">154°W</text>
<text x="221.9" y="1084.3" font-size="13.89" text-anchor="middle">152°W</text>
<text x="303.5" y="1084.3" font-size="13.89" text-anchor="middle">150°W</text>
<text x="457.5" y="1084.3" font-size="13.89" text-anchor="middle">156°W</text>
<text x="539.1" y="1084.3" font-size="13.89" text-anchor="middle">154°W</text>
<text x="620.8" y="1084.3" font-size="13.89" text-anchor="middle">152°W</text>
<text x="702.4" y="1084.3" font-size="13.89" text-anchor="middle">150°W</text>
<text x="857.5" y="1084.3" font-size="13.89" text-anchor="middle">156°W</text>
<text x="939.1" y="1084.3" font-size="13.89" text-anchor="middle">154°W</text>
<text x="1020.8" y="1084.3" font-size="13.89" text-anchor="middle">152°W</text>
<text x="1102.4" y="1084.3" font-size="13.89" text-anchor="middle">150°W</text>
<linearGradient id="cg1" gradientUnits="userSpaceOnUse" x1="163.4" x2="638.4" y1="0" y2="0"><stop offset="0.0000" stop-color="rgb(42,24,108)"/><stop offset="0.0400" stop-color="rgb(46,27,130)"/><stop offset="0.0800" stop-color="rgb(48,32,152)"/><stop offset="0.1100" stop-color="rgb(44,40,165)"/><stop offset="0.1400" stop-color="rgb(35,55,165)"/><stop offset="0.1700" stop-color="rgb(24,68,160)"/><stop offset="0.2000" stop-color="rgb(15,80,153)"/><stop offset="0.2500" stop-color="rgb(16,92,147)"/><stop offset="0.3100" stop-color="rgb(24,105,142)"/><stop offset="0.3750" stop-color="rgb(33,116,139)"/><stop offset="0.4400" stop-color="rgb(46,130,136)"/><stop offset="0.5000" stop-color="rgb(56,142,133)"/><stop offset="0.5625" stop-color="rgb(68,158,130)"/><stop offset="0.6250" stop-color="rgb(82,174,125)"/><stop offset="0.6875" stop-color="rgb(103,193,113)"/><stop offset="0.7500" stop-color="rgb(133,207,98)"/><stop offset="0.8125" stop-color="rgb(166,214,92)"/><stop offset="0.8750" stop-color="rgb(204,222,104)"/><stop offset="0.9375" stop-color="rgb(232,230,130)"/><stop offset="1.0000" stop-color="rgb(253,238,152)"/></linearGradient>
<path d="M163.4 548.4 L163.4 525.5 L638.4 525.5 L638.4 548.4Z" fill="url(#cg1)" stroke="#000" stroke-width="1.2" stroke-linejoin="miter"/>
<text x="193.1" y="569.1" font-size="13.89" text-anchor="middle">18</text>
<text x="252.5" y="569.1" font-size="13.89" text-anchor="middle">20</text>
<text x="311.8" y="569.1" font-size="13.89" text-anchor="middle">22</text>
<text x="371.2" y="569.1" font-size="13.89" text-anchor="middle">24</text>
<text x="430.6" y="569.1" font-size="13.89" text-anchor="middle">26</text>
<text x="490.0" y="569.1" font-size="13.89" text-anchor="middle">28</text>
<text x="549.3" y="569.1" font-size="13.89" text-anchor="middle">30</text>
<text x="608.7" y="569.1" font-size="13.89" text-anchor="middle">32</text>
<path d="M193.1 548.9 v4.9 M252.5 548.9 v4.9 M311.8 548.9 v4.9 M371.2 548.9 v4.9 M430.6 548.9 v4.9 M490.0 548.9 v4.9 M549.3 548.9 v4.9 M608.7 548.9 v4.9" stroke="#000" stroke-width="1.1" fill="none"/>
<text x="400.9" y="588.8" font-size="13.89" text-anchor="middle">Surface Salinity (PSU)</text>
<linearGradient id="cg2" gradientUnits="userSpaceOnUse" x1="804.4" x2="1177.4" y1="0" y2="0"><stop offset="0.0000" stop-color="rgb(24,28,67)"/><stop offset="0.0294" stop-color="rgb(30,33,90)"/><stop offset="0.0588" stop-color="rgb(36,40,115)"/><stop offset="0.0882" stop-color="rgb(42,48,140)"/><stop offset="0.1176" stop-color="rgb(45,58,162)"/><stop offset="0.1471" stop-color="rgb(35,72,182)"/><stop offset="0.1765" stop-color="rgb(20,86,190)"/><stop offset="0.2059" stop-color="rgb(15,100,190)"/><stop offset="0.2647" stop-color="rgb(50,130,185)"/><stop offset="0.3529" stop-color="rgb(125,172,192)"/><stop offset="0.4118" stop-color="rgb(180,205,212)"/><stop offset="0.4706" stop-color="rgb(225,230,232)"/><stop offset="0.5000" stop-color="rgb(241,236,235)"/><stop offset="0.5294" stop-color="rgb(234,215,208)"/><stop offset="0.5882" stop-color="rgb(225,190,178)"/><stop offset="0.6471" stop-color="rgb(215,160,140)"/><stop offset="0.7353" stop-color="rgb(195,105,75)"/><stop offset="0.7941" stop-color="rgb(182,66,42)"/><stop offset="0.8529" stop-color="rgb(160,30,40)"/><stop offset="0.9412" stop-color="rgb(100,15,35)"/><stop offset="1.0000" stop-color="rgb(60,9,18)"/></linearGradient>
<path d="M804.4 544.3 L804.4 524.4 L1177.4 524.4 L1195.6 534.3 L1177.4 544.3Z" fill="url(#cg2)" stroke="#000" stroke-width="1.2" stroke-linejoin="miter"/>
<text x="827.1" y="564.5" font-size="13.89" text-anchor="middle">−15</text>
<text x="881.9" y="564.5" font-size="13.89" text-anchor="middle">−10</text>
<text x="936.6" y="564.5" font-size="13.89" text-anchor="middle">−5</text>
<text x="991.4" y="564.5" font-size="13.89" text-anchor="middle">0</text>
<text x="1046.2" y="564.5" font-size="13.89" text-anchor="middle">5</text>
<text x="1100.9" y="564.5" font-size="13.89" text-anchor="middle">10</text>
<text x="1155.7" y="564.5" font-size="13.89" text-anchor="middle">15</text>
<path d="M827.1 544.8 v4.9 M881.9 544.8 v4.9 M936.6 544.8 v4.9 M991.4 544.8 v4.9 M1046.2 544.8 v4.9 M1100.9 544.8 v4.9 M1155.7 544.8 v4.9" stroke="#000" stroke-width="1.1" fill="none"/>
<text x="990.9" y="583.5" font-size="13.89" text-anchor="middle">Surface Salinity (PSU)</text>
<linearGradient id="cg3" gradientUnits="userSpaceOnUse" x1="163.4" x2="638.4" y1="0" y2="0"><stop offset="0.0000" stop-color="rgb(42,24,108)"/><stop offset="0.0400" stop-color="rgb(46,27,130)"/><stop offset="0.0800" stop-color="rgb(48,32,152)"/><stop offset="0.1100" stop-color="rgb(44,40,165)"/><stop offset="0.1400" stop-color="rgb(35,55,165)"/><stop offset="0.1700" stop-color="rgb(24,68,160)"/><stop offset="0.2000" stop-color="rgb(15,80,153)"/><stop offset="0.2500" stop-color="rgb(16,92,147)"/><stop offset="0.3100" stop-color="rgb(24,105,142)"/><stop offset="0.3750" stop-color="rgb(33,116,139)"/><stop offset="0.4400" stop-color="rgb(46,130,136)"/><stop offset="0.5000" stop-color="rgb(56,142,133)"/><stop offset="0.5625" stop-color="rgb(68,158,130)"/><stop offset="0.6250" stop-color="rgb(82,174,125)"/><stop offset="0.6875" stop-color="rgb(103,193,113)"/><stop offset="0.7500" stop-color="rgb(133,207,98)"/><stop offset="0.8125" stop-color="rgb(166,214,92)"/><stop offset="0.8750" stop-color="rgb(204,222,104)"/><stop offset="0.9375" stop-color="rgb(232,230,130)"/><stop offset="1.0000" stop-color="rgb(253,238,152)"/></linearGradient>
<path d="M163.4 1137.2 L163.4 1114.5 L638.4 1114.5 L638.4 1137.2Z" fill="url(#cg3)" stroke="#000" stroke-width="1.2" stroke-linejoin="miter"/>
<text x="163.4" y="1157.7" font-size="13.89" text-anchor="middle">0</text>
<text x="258.4" y="1157.7" font-size="13.89" text-anchor="middle">2</text>
<text x="353.4" y="1157.7" font-size="13.89" text-anchor="middle">4</text>
<text x="448.4" y="1157.7" font-size="13.89" text-anchor="middle">6</text>
<text x="543.4" y="1157.7" font-size="13.89" text-anchor="middle">8</text>
<text x="638.4" y="1157.7" font-size="13.89" text-anchor="middle">10</text>
<path d="M163.4 1137.7 v4.9 M258.4 1137.7 v4.9 M353.4 1137.7 v4.9 M448.4 1137.7 v4.9 M543.4 1137.7 v4.9 M638.4 1137.7 v4.9" stroke="#000" stroke-width="1.1" fill="none"/>
<text x="400.9" y="1178.6" font-size="16.67" text-anchor="middle">Surface Salinity</text>
<text x="400.9" y="1195.3" font-size="16.67" text-anchor="middle">Standard Deviation (PSU)</text>
<linearGradient id="cg4" gradientUnits="userSpaceOnUse" x1="823.1" x2="1177.4" y1="0" y2="0"><stop offset="0.0000" stop-color="rgb(24,28,67)"/><stop offset="0.0294" stop-color="rgb(30,33,90)"/><stop offset="0.0588" stop-color="rgb(36,40,115)"/><stop offset="0.0882" stop-color="rgb(42,48,140)"/><stop offset="0.1176" stop-color="rgb(45,58,162)"/><stop offset="0.1471" stop-color="rgb(35,72,182)"/><stop offset="0.1765" stop-color="rgb(20,86,190)"/><stop offset="0.2059" stop-color="rgb(15,100,190)"/><stop offset="0.2647" stop-color="rgb(50,130,185)"/><stop offset="0.3529" stop-color="rgb(125,172,192)"/><stop offset="0.4118" stop-color="rgb(180,205,212)"/><stop offset="0.4706" stop-color="rgb(225,230,232)"/><stop offset="0.5000" stop-color="rgb(241,236,235)"/><stop offset="0.5294" stop-color="rgb(234,215,208)"/><stop offset="0.5882" stop-color="rgb(225,190,178)"/><stop offset="0.6471" stop-color="rgb(215,160,140)"/><stop offset="0.7353" stop-color="rgb(195,105,75)"/><stop offset="0.7941" stop-color="rgb(182,66,42)"/><stop offset="0.8529" stop-color="rgb(160,30,40)"/><stop offset="0.9412" stop-color="rgb(100,15,35)"/><stop offset="1.0000" stop-color="rgb(60,9,18)"/></linearGradient>
<path d="M823.1 1133.0 L804.6 1123.3 L823.1 1113.6 L1177.4 1113.6 L1195.6 1123.3 L1177.4 1133.0Z" fill="url(#cg4)" stroke="#000" stroke-width="1.2" stroke-linejoin="miter"/>
<text x="863.6" y="1153.7" font-size="13.89" text-anchor="middle">−10</text>
<text x="932.1" y="1153.7" font-size="13.89" text-anchor="middle">−5</text>
<text x="1000.6" y="1153.7" font-size="13.89" text-anchor="middle">0</text>
<text x="1069.1" y="1153.7" font-size="13.89" text-anchor="middle">5</text>
<text x="1137.6" y="1153.7" font-size="13.89" text-anchor="middle">10</text>
<path d="M863.6 1133.5 v4.9 M932.1 1133.5 v4.9 M1000.6 1133.5 v4.9 M1069.1 1133.5 v4.9 M1137.6 1133.5 v4.9" stroke="#000" stroke-width="1.1" fill="none"/>
<text x="1000.2" y="1172.6" font-size="13.89" text-anchor="middle">Surface Salinity</text>
<text x="1000.2" y="1189.5" font-size="13.89" text-anchor="middle">Standard Deviation (PSU)</text>
</svg></body></html>
